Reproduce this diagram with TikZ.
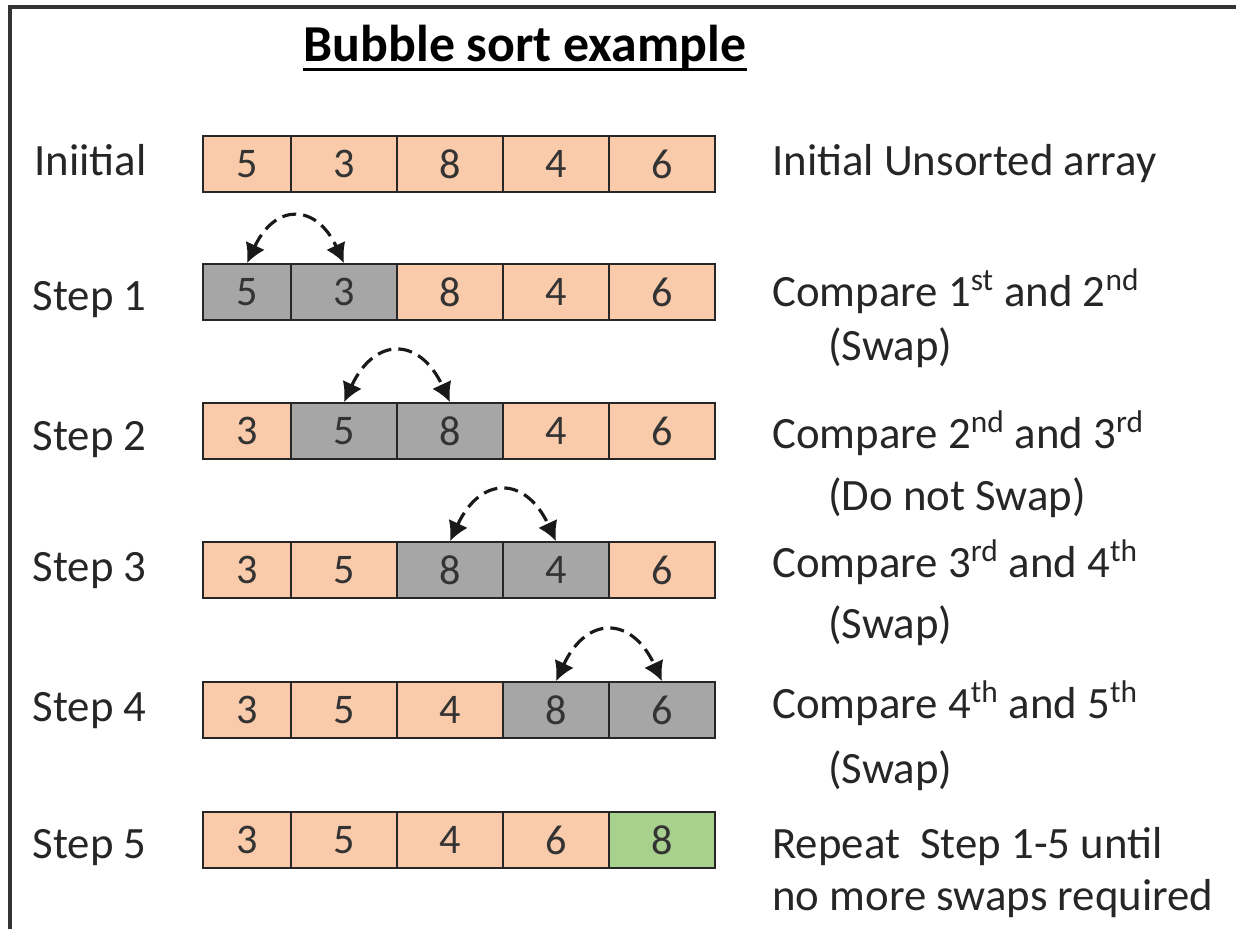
\documentclass[tikz,border=0pt]{standalone}
\usepackage{fontspec}
\setmainfont{Carlito}
\usepackage{xcolor}
\definecolor{peach}{HTML}{F9CBAB}
\definecolor{greyfill}{HTML}{A6A6A6}
\definecolor{greenfill}{HTML}{A9D18E}
\usepackage{tikz}
\usetikzlibrary{arrows.meta}

\begin{document}
\begin{tikzpicture}[x=0.02cm, y=0.02cm,
    cellbox/.style={rectangle, draw=black!85, line width=1pt, fill=peach, minimum width=2.12cm, minimum height=1.12cm, inner sep=0pt, font=\fontsize{24}{28}\selectfont, text=black!80},
    firstbox/.style={cellbox, minimum width=1.76cm},
    cmp/.style={fill=greyfill},
    done/.style={fill=greenfill},
    rowlabel/.style={anchor=base east, inner sep=0pt, font=\fontsize{25.5}{30}\selectfont, text=black!85},
    note/.style={anchor=base west, inner sep=0pt, font=\fontsize{25.5}{30}\selectfont, text=black!85},
    swaparrow/.style={arrows={Latex[length=11pt,width=12pt]-Latex[length=11pt,width=12pt]}, line width=1.8pt, dash pattern=on 8pt off 4pt, black!90}]
                        \useasboundingbox (0,0) rectangle (1236,-929);
                        \draw[line width=2.2pt, black!80] (1236,-7) -- (10,-7) -- (10,-929);

                        \node (title) at (525,-62) [anchor=base, inner sep=0pt, font=\bfseries\fontsize{29.5}{34}\selectfont] {Bubble sort example};
                        \draw[line width=1.6pt] ([yshift=-4.5pt]title.base west) -- ([yshift=-4.5pt]title.base east);

                        % initial array
                        \node (lab0) at (147,-175) [rowlabel] {Iniitial};
                        \node (i1) at (247,-164) [firstbox] {5};
                        \node (i2) at (344,-164) [cellbox] {3};
                        \node (i3) at (450,-164) [cellbox] {8};
                        \node (i4) at (556,-164) [cellbox] {4};
                        \node (i5) at (662,-164) [cellbox] {6};
                        \node (note0) at (772,-175) [note] {Initial Unsorted array};

                        % step 1 : 5 <-> 3
                        \node (lab1) at (147,-310) [rowlabel] {Step 1};
                        \node (a1) at (247,-292) [firstbox, cmp] {5};
                        \node (a2) at (344,-292) [cellbox, cmp] {3};
                        \node (a3) at (450,-292) [cellbox] {8};
                        \node (a4) at (556,-292) [cellbox] {4};
                        \node (a5) at (662,-292) [cellbox] {6};
                        \draw[swaparrow] (a1.north) to[out=65, in=115, looseness=1.75] (a2.north);
                        \node (note1) at (772,-306) [note] {Compare 1\textsuperscript{st} and 2\textsuperscript{nd}};
                        \node (swap1) at (828,-360) [note] {(Swap)};

                        % step 2 : 5, 8 stay
                        \node (lab2) at (147,-450) [rowlabel] {Step 2};
                        \node (b1) at (247,-431) [firstbox] {3};
                        \node (b2) at (344,-431) [cellbox, cmp] {5};
                        \node (b3) at (450,-431) [cellbox, cmp] {8};
                        \node (b4) at (556,-431) [cellbox] {4};
                        \node (b5) at (662,-431) [cellbox] {6};
                        \draw[swaparrow] (b2.north) to[out=65, in=115, looseness=1.75] (b3.north);
                        \node (note2) at (772,-448) [note] {Compare 2\textsuperscript{nd} and 3\textsuperscript{rd}};
                        \node (swap2) at (828,-510) [note] {(Do not Swap)};

                        % step 3 : 8 <-> 4
                        \node (lab3) at (147,-581) [rowlabel] {Step 3};
                        \node (c1) at (247,-570) [firstbox] {3};
                        \node (c2) at (344,-570) [cellbox] {5};
                        \node (c3) at (450,-570) [cellbox, cmp] {8};
                        \node (c4) at (556,-570) [cellbox, cmp] {4};
                        \node (c5) at (662,-570) [cellbox] {6};
                        \draw[swaparrow] (c3.north) to[out=65, in=115, looseness=1.75] (c4.north);
                        \node (note3) at (772,-577) [note] {Compare 3\textsuperscript{rd} and 4\textsuperscript{th}};
                        \node (swap3) at (828,-638) [note] {(Swap)};

                        % step 4 : 8 <-> 6
                        \node (lab4) at (147,-721) [rowlabel] {Step 4};
                        \node (d1) at (247,-710) [firstbox] {3};
                        \node (d2) at (344,-710) [cellbox] {5};
                        \node (d3) at (450,-710) [cellbox] {4};
                        \node (d4) at (556,-710) [cellbox, cmp] {8};
                        \node (d5) at (662,-710) [cellbox, cmp] {6};
                        \draw[swaparrow] (d4.north) to[out=65, in=115, looseness=1.75] (d5.north);
                        \node (note4) at (772,-718) [note] {Compare 4\textsuperscript{th} and 5\textsuperscript{th}};
                        \node (swap4) at (828,-783) [note] {(Swap)};

                        % step 5 : largest in place
                        \node (lab5) at (147,-858) [rowlabel] {Step 5};
                        \node (e1) at (247,-840) [firstbox] {3};
                        \node (e2) at (344,-840) [cellbox] {5};
                        \node (e3) at (450,-840) [cellbox] {4};
                        \node (e4) at (556,-840) [cellbox] {6};
                        \node (e5) at (662,-840) [cellbox, done] {8};
                        \node (note5) at (772,-858) [note] {Repeat\ \ Step 1-5 until};
                        \node (note6) at (772,-910) [note] {no more swaps required};
                    \end{tikzpicture}
\end{document}
